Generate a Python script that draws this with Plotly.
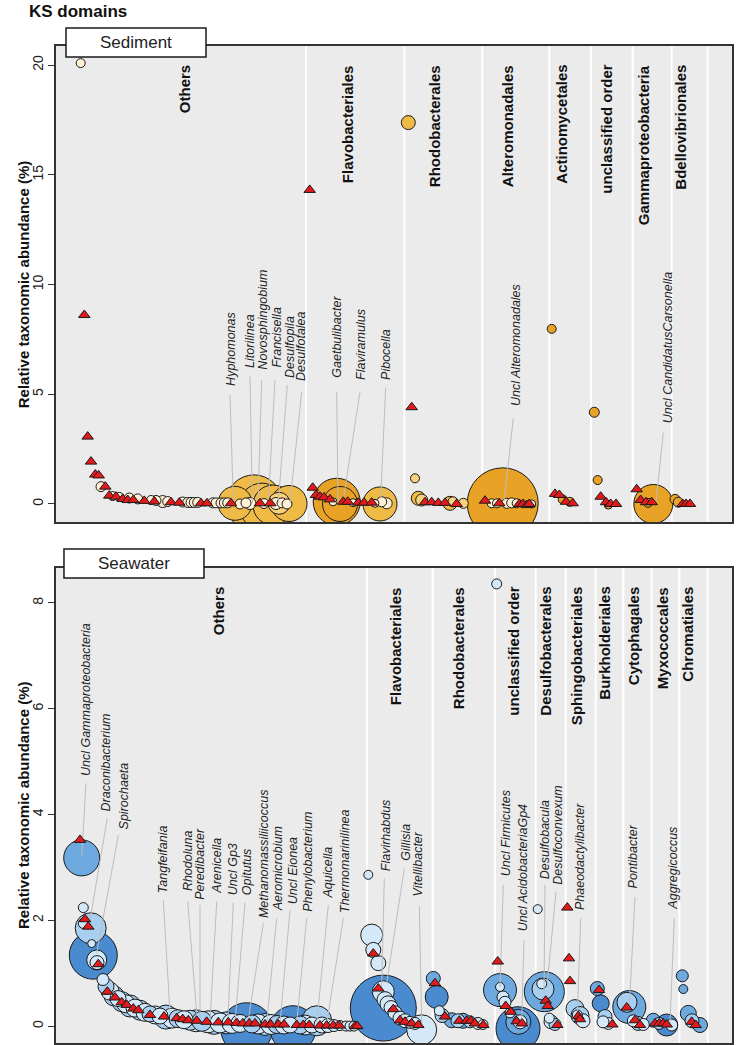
import plotly.graph_objects as go
import numpy as np

# ---------------- Sediment panel data ----------------
SED_GROUPS = ["Others", "Flavobacteriales", "Rhodobacterales", "Alteromonadales",
              "Actinomycetales", "unclassified order", "Gammaproteobacteria", "Bdellovibrionales"]
SED_GROUP_X = [184, 347, 434, 507, 562, 607, 643, 681]
SED_SEPS = [306, 404.3, 482.3, 549.3, 591, 632.7, 671.7, 707.7]

SED_CX = [80.7, 101, 112.7, 119.3, 129.3, 137.7, 151, 156, 162.7, 167.7, 182.7, 187.7, 191, 194.3, 197.7,
          212.7, 216, 221, 224.3, 227.7,
          235, 254, 262, 273, 289, 279, 240, 246, 250, 264, 276, 282, 287,
          336.7, 340, 380, 333, 353, 375, 381.7, 386.7,
          408.3, 415, 418.3, 421.7, 450, 453, 463.3,
          502.7, 491.7, 497, 506.7, 511.7, 516.7, 531.7,
          551.7, 562.7, 570,
          594.3, 597.7, 608.3,
          653.3, 648,
          675, 678.3]
SED_CY = [20.09, 0.79, 0.36, 0.32, 0.27, 0.23, 0.18, 0.16, 0.11, 0.11, 0.09, 0.07, 0.07, 0.07, 0.07,
          0.05, 0.05, 0.05, 0.05, 0.05,
          0.03, 0.05, -0.1, -0.05, 0.02, 0.03, 0.0, 0.05, 0.02, 0.02, 0.02, 0.05, 0.0,
          0.1, 0.0, 0.0, 0.1, 0.06, 0.03, 0.1, 0.03,
          17.38, 1.17, 0.26, 0.18, 0.03, 0.1, 0.03,
          0.03, 0.03, 0.03, 0.03, 0.05, 0.03, 0.0,
          7.98, 0.21, 0.1,
          4.18, 1.09, -0.05,
          0.0, 0.05,
          0.21, 0.08]
SED_CD = [9, 10, 9, 9, 10, 10, 9, 10, 12, 10, 10, 10, 10, 10, 10,
          10, 10, 10, 10, 10,
          34, 56, 46, 40, 36, 22, 10, 10, 12, 10, 12, 10, 10,
          47, 35, 34, 8, 8, 8, 10, 11,
          14, 9, 14, 12, 14, 10, 10,
          71, 9, 9, 10, 10, 9, 8,
          9, 9, 9,
          10, 9, 8,
          39, 9,
          10, 10]
SED_CS = [0, 0, 0, 0, 0, 0, 0, 0, 0, 0, 0, 0, 0, 0, 0,
          0, 0, 0, 0, 0,
          2, 2, 2, 2, 2, 1, 0, 0, 0, 0, 0, 0, 0,
          3, 3, 2, 0, 0, 0, 0, 0,
          2, 1, 2, 1, 2, 1, 1,
          3, 0, 0, 0, 0, 0, 0,
          3, 3, 3,
          3, 3, 3,
          3, 3,
          3, 3]
SED_TX = [84.3, 87.7, 91, 95.3, 98.7, 105.3, 109.3, 116, 122.7, 127.7, 133.3, 144.3, 154.3, 171, 179.3,
          201, 207, 231, 260, 270.3,
          309.7, 312.7, 316, 320, 324, 330, 343.3, 347.7, 358.3, 364, 371.7,
          411.7, 425, 431.7, 438.3, 445, 456.7,
          485, 499.3, 519.3, 523, 526.7, 529.3,
          555, 559.3, 566, 572.7,
          600.7, 606, 610.7, 616,
          636.7, 640.7, 646, 651.7,
          682.7, 686, 690]
SED_TY = [8.61, 3.07, 1.93, 1.34, 1.30, 0.79, 0.38, 0.33, 0.23, 0.18, 0.18, 0.14, 0.11, 0.08, 0.06,
          0.03, 0.03, 0.03, 0.03, 0.03,
          14.31, 0.74, 0.41, 0.33, 0.30, 0.21, 0.10, 0.10, 0.06, 0.06, 0.06,
          4.41, 0.08, 0.08, 0.05, 0.05, 0.0,
          0.15, 0.03, 0.0, 0.0, -0.05, 0.0,
          0.46, 0.41, 0.10, 0.03,
          0.33, 0.08, 0.0, 0.0,
          0.67, 0.18, 0.08, 0.08,
          0.0, 0.0, 0.0]
SED_LABELS = ["Hyphomonas", "Litorilinea", "Novosphingobium", "Francisella", "Desulfopila", "Desulfotalea",
              "Gaetbulibacter", "Flaviramulus", "Pibocella", "Uncl Alteromonadales", "Uncl CandidatusCarsonella"]
SED_LABEL_X = [231, 250, 263, 276.7, 290, 301.7, 336.7, 361.7, 386.7, 516.7, 668.3]
SED_LABEL_Y = [5.29, 6.11, 6.03, 6.11, 5.65, 5.50, 5.65, 5.57, 5.57, 4.36, 3.60]
SED_LEAD_X0 = [230, 250, 261.7, 275, 287.3, 301.7, 336.7, 360, 385.7, 513.3, 663.3]
SED_LEAD_Y0 = [4.97, 5.80, 5.65, 5.65, 5.42, 5.12, 5.10, 5.10, 5.29, 3.91, 3.25]
SED_LEAD_X1 = [233.3, 252.3, 258, 268.3, 278.3, 290, 338, 343.3, 380.7, 504, 656]
SED_LEAD_Y1 = [0.05, 0.05, 0.05, 0.05, 0.05, 0.05, 0.05, 0.2, 0.27, 0.1, 0.1]

# ---------------- Seawater panel data ----------------
SEA_GROUPS = ["Others", "Flavobacteriales", "Rhodobacterales", "unclassified order", "Desulfobacterales",
              "Sphingobacteriales", "Burkholderiales", "Cytophagales", "Myxococcales", "Chromatiales"]
SEA_GROUP_X = [218, 395, 458, 514, 546, 576, 605, 633, 662, 688]
SEA_SEPS = [367, 432.7, 495, 535.7, 565.7, 595.7, 623.3, 651.7, 679.3, 707.7]

SEA_CX = [81.7, 83.3, 90.7, 83.3, 93.3, 91.7, 96.7, 97,
          103, 106, 110, 114, 118, 122, 126, 130, 135, 140, 145, 150, 155, 160, 166, 172, 178, 184, 190,
          196, 202, 208, 214, 220, 226, 232, 246.7, 240, 252, 258, 265, 271, 277, 293, 284, 290, 300,
          305, 316.7, 312, 322, 328, 334, 340, 346, 350, 354,
          368.3, 371.7, 373.3, 378.3, 383.3, 383.3, 385, 388, 391, 395, 400, 405, 410, 415, 421.7,
          433.3, 436.7, 439.3, 442, 451.7, 458, 463, 470, 478, 483,
          496.7, 500, 500, 503, 505, 518, 518.3, 520, 510,
          537.7, 544.3, 543, 541.7, 549.3, 551, 555,
          575, 580, 583, 577.3,
          597.3, 600.7, 605, 608.3, 603,
          629.3, 627, 633.3, 643.3, 638,
          653.3, 666.7, 671.7, 659,
          682.3, 683.3, 688.3, 692, 700]
SEA_CY = [3.18, 2.24, 1.85, 1.94, 1.34, 1.56, 1.25, 1.2,
          0.88, 0.75, 0.66, 0.57, 0.52, 0.46, 0.42, 0.38, 0.34, 0.30, 0.26, 0.23, 0.21, 0.19, 0.17, 0.15,
          0.14, 0.12, 0.11, 0.10, 0.09, 0.08, 0.07, 0.06, 0.06, 0.05, -0.05, 0.05, 0.04, 0.04, 0.03, 0.03,
          0.03, -0.05, 0.02, 0.02, 0.02, 0.02, 0.1, 0.02, 0.02, 0.01, 0.01, 0.01, 0.0, 0.0, 0.0,
          2.86, 1.72, 1.44, 1.19, 0.34, 0.65, 0.5, 0.42, 0.35, 0.25, 0.15, 0.1, 0.07, 0.05, -0.07,
          0.90, 0.55, 0.29, 0.2, 0.11, 0.1, 0.1, 0.08, 0.05, 0.03,
          8.36, 0.68, 0.74, 0.55, 0.45, -0.05, 0.08, 0.08, 0.25,
          2.21, 0.65, 0.7, 0.8, 0.15, 0.08, 0.03,
          0.33, 0.2, 0.1, 0.21,
          0.71, 0.43, 0.18, 0.05, 0.08,
          0.36, 0.45, 0.1, 0.03, 0.05,
          0.11, 0.02, 0.02, 0.05,
          0.95, 0.70, 0.24, 0.1, 0.02]
SEA_CD = [36, 10, 31, 10, 48, 8, 20, 14,
          12, 16, 18, 20, 16, 20, 18, 22, 18, 20, 18, 16, 18, 16, 24, 20, 18, 18, 20,
          22, 20, 22, 24, 20, 22, 20, 52, 18, 18, 20, 22, 20, 18, 46, 18, 16, 18,
          20, 30, 16, 16, 14, 12, 10, 10, 10, 10,
          9, 22, 15, 15, 66, 22, 16, 16, 14, 14, 14, 14, 12, 12, 30,
          14, 23, 10, 14, 15, 14, 15, 12, 12, 10,
          10, 33, 9, 12, 12, 44, 25, 14, 10,
          9, 40, 22, 10, 10, 14, 12,
          18, 18, 14, 10,
          14, 17, 14, 12, 12,
          33, 20, 12, 12, 14,
          14, 22, 12, 12,
          12, 9, 16, 14, 15]
SEA_CS = [2, 0, 1, 0, 3, 0, 0, 0,
          0, 1, 0, 1, 0, 1, 0, 1, 0, 1, 0, 1, 0, 0, 1, 0, 1, 0, 1,
          0, 1, 0, 1, 0, 1, 0, 3, 0, 1, 0, 1, 0, 1, 3, 0, 0, 1,
          0, 1, 0, 0, 0, 0, 0, 0, 0, 0,
          0, 0, 0, 0, 3, 0, 0, 0, 0, 0, 0, 0, 0, 0, 0,
          2, 3, 0, 1, 2, 1, 2, 1, 0, 0,
          0, 2, 0, 0, 0, 3, 2, 0, 0,
          0, 2, 1, 0, 0, 0, 1,
          1, 1, 0, 0,
          2, 3, 1, 0, 0,
          2, 1, 0, 0, 1,
          2, 3, 0, 1,
          2, 2, 2, 1, 2]
SEA_TX = [80, 85, 88.3, 98.3, 107.3, 115, 121.7, 126.7, 133.3, 138.3, 150, 164, 176.7, 182.7, 188.3,
          196.7, 206.7, 218.3, 228.3, 236.7, 242.7, 249.3, 255, 265, 270.7, 278.3, 284, 296.7, 303.3,
          309.3, 320, 326.7, 333.3, 339.3, 355, 357.3,
          373.3, 378.3, 393.3, 400, 405, 411.7, 418.3,
          435, 445, 459.3, 466.7, 471, 475, 483.3,
          497.7, 505.7, 510.7, 516.7, 522,
          545.7, 547.7, 557.3,
          567.3, 569, 570, 578.3, 580,
          599, 612.3,
          626.7, 635, 640,
          655, 659.3, 663.3, 666.7,
          691.7, 695.7]
SEA_TY = [3.52, 2.02, 1.88, 1.17, 0.65, 0.54, 0.45, 0.40, 0.33, 0.30, 0.21, 0.18, 0.15, 0.13, 0.11,
          0.10, 0.08, 0.07, 0.07, 0.06, 0.05, 0.05, 0.05, 0.03, 0.03, 0.03, 0.03, 0.02, 0.02,
          0.02, 0.01, 0.01, 0.01, 0.01, 0.0, 0.0,
          1.37, 0.71, 0.32, 0.11, 0.08, 0.05, 0.02,
          0.81, 0.18, 0.10, 0.10, 0.10, 0.05, 0.02,
          1.22, 0.38, 0.27, 0.09, 0.05,
          0.48, 0.38, 0.02,
          2.24, 1.28, 0.85, 0.19, 0.13,
          0.68, 0.03,
          0.35, 0.11, 0.02,
          0.05, 0.05, 0.05, 0.03,
          0.08, 0.02]
SEA_LABELS = ["Uncl Gammaproteobacteria", "Draconibacterium", "Spirochaeta", "Tangfeifania", "Rhodoluna",
              "Peredibacter", "Arenicella", "Uncl Gp3", "Opitutus", "Methanomassiliicoccus", "Aeromicrobium",
              "Uncl Eionea", "Phenylobacterium", "Aquicella", "Thermomarinilinea", "Flavirhabdus", "Gillisia",
              "Vitellibacter", "Uncl Firmicutes", "Uncl AcidobacteriaGp4", "Desulfobacula", "Desulfoconvexum",
              "Phaeodactylibacter", "Pontibacter", "Aggregicoccus"]
SEA_LABEL_X = [86, 106, 124, 163.3, 188.3, 200, 216.7, 233.3, 246.7, 263.3, 278.3, 293.3, 308.3, 328.3, 345,
               386, 406, 418.3, 505.7, 523.3, 545, 558.3, 580.7, 633.3, 673.3]
SEA_LABEL_Y = [4.68, 4.02, 3.67, 2.48, 2.51, 2.35, 2.46, 2.44, 2.44, 2.00, 2.13, 2.26, 2.13, 2.38, 2.10,
               2.89, 3.08, 2.41, 2.79, 1.75, 2.73, 2.63, 2.16, 2.57, 2.16]
SEA_LEAD_X0 = [86, 107.3, 118.3, 163.3, 187.7, 200, 216.7, 233.3, 245, 263.3, 276.7, 290, 306.7, 328.3, 343.3,
               384.3, 404.3, 419.3, 503.3, 524, 545, 556, 580.7, 635, 674.3]
SEA_LEAD_Y0 = [4.59, 3.93, 3.61, 2.38, 2.35, 2.29, 2.35, 2.33, 2.33, 1.94, 2.04, 2.19, 2.04, 2.29, 2.04,
               2.79, 2.98, 2.27, 2.67, 1.63, 2.67, 2.54, 2.04, 2.44, 2.04]
SEA_LEAD_X1 = [81.7, 90, 96.7, 170, 197.3, 200, 210, 227.7, 235, 248.3, 266.7, 280, 296.7, 316.7, 326.7,
               381.7, 386.7, 421.7, 500, 521.7, 544, 547.3, 577.3, 629.3, 670]
SEA_LEAD_Y1 = [3.20, 2.00, 1.37, 0.24, 0.11, 0.11, 0.08, 0.05, 0.06, 0.11, 0.05, 0.05, 0.05, 0.05, 0.05,
               0.74, 0.81, 0.05, 0.74, 0.11, 0.62, 0.81, 0.21, 0.36, 0.05]

SED_SHADES = ["#FFF1D6", "#F7D27A", "#EFBA45", "#E8A326"]
SEA_SHADES = ["#D3E8F8", "#A8CFF0", "#6DA9DF", "#4A8BD0"]

FONT = "Liberation Sans, Arial, sans-serif"

fig = go.Figure()
annotations = []
shapes = []


def add_panel(xa, ya, cx, cy, cd, cs, shades, tx, ty, labels, lx, ly, lx0, ly0, lx1, ly1,
              groups, gx, seps):
    order = np.argsort(-np.array(cd), kind="stable")
    fig.add_trace(go.Scatter(
        x=[cx[i] for i in order], y=[cy[i] for i in order], mode="markers",
        marker=dict(size=[cd[i] for i in order], color=[shades[cs[i]] for i in order],
                    line=dict(color="#1a1a1a", width=1), opacity=1),
        xaxis=xa, yaxis=ya, hoverinfo="skip", showlegend=False))
    sx, sy = [], []
    for a, b, c, d in zip(lx0, ly0, lx1, ly1):
        sx += [a, c, None]
        sy += [b, d, None]
    fig.add_trace(go.Scatter(x=sx, y=sy, mode="lines", line=dict(color="#BDBDBD", width=1),
                             xaxis=xa, yaxis=ya, hoverinfo="skip", showlegend=False))
    fig.add_trace(go.Scatter(
        x=tx, y=ty, mode="markers",
        marker=dict(symbol="triangle-up", size=10, color="#E3191C", line=dict(color="#1a1a1a", width=1)),
        xaxis=xa, yaxis=ya, hoverinfo="skip", showlegend=False))
    xref = "x" if xa == "x" else "x2"
    yref = "y" if ya == "y" else "y2"
    for name, x, y in zip(labels, lx, ly):
        annotations.append(dict(text="<i>" + name + "</i>", x=x, y=y, xref=xref, yref=yref,
                                textangle=-90, xanchor="center", yanchor="bottom", showarrow=False,
                                font=dict(family=FONT, size=12.5, color="#222222")))
    for name, x in zip(groups, gx):
        annotations.append(dict(text="<b>" + name + "</b>", x=x, y=0.964, xref=xref, yref=yref + " domain",
                                textangle=-90, xanchor="center", yanchor="top", showarrow=False,
                                font=dict(family=FONT, size=15, color="#111111")))
    for s in seps:
        shapes.append(dict(type="line", xref=xref, yref=yref + " domain", x0=s, x1=s, y0=0, y1=1,
                           line=dict(color="white", width=2), layer="below"))


add_panel("x", "y", SED_CX, SED_CY, SED_CD, SED_CS, SED_SHADES, SED_TX, SED_TY,
          SED_LABELS, SED_LABEL_X, SED_LABEL_Y, SED_LEAD_X0, SED_LEAD_Y0, SED_LEAD_X1, SED_LEAD_Y1,
          SED_GROUPS, SED_GROUP_X, SED_SEPS)
add_panel("x2", "y2", SEA_CX, SEA_CY, SEA_CD, SEA_CS, SEA_SHADES, SEA_TX, SEA_TY,
          SEA_LABELS, SEA_LABEL_X, SEA_LABEL_Y, SEA_LEAD_X0, SEA_LEAD_Y0, SEA_LEAD_X1, SEA_LEAD_Y1,
          SEA_GROUPS, SEA_GROUP_X, SEA_SEPS)

# strip boxes
for (x0, x1, y0, y1, txt) in [(0.0148, 0.2219, 0.989, 1.018, "Sediment"),
                              (0.0118, 0.2189, 0.4664, 0.4955, "Seawater")]:
    shapes.append(dict(type="rect", xref="paper", yref="paper", x0=x0, x1=x1, y0=y0, y1=y1,
                       fillcolor="white", line=dict(color="#1a1a1a", width=1.5), layer="above"))
    annotations.append(dict(text=txt, x=(x0 + x1) / 2, y=(y0 + y1) / 2, xref="paper", yref="paper",
                            xanchor="center", yanchor="middle", showarrow=False,
                            font=dict(family=FONT, size=17, color="#222222")))

# axis titles
for yc in [0.761, 0.2387]:
    annotations.append(dict(text="<b>Relative taxonomic abundance (%)</b>", x=-0.0488, y=yc,
                            xref="paper", yref="paper", textangle=-90, xanchor="center", yanchor="middle",
                            showarrow=False, font=dict(family=FONT, size=15, color="#111111")))

annotations.append(dict(text="<b>KS domains</b>", x=-0.0429, y=1.035, xref="paper", yref="paper",
                        xanchor="left", yanchor="middle", showarrow=False,
                        font=dict(family=FONT, size=17, color="#111111")))

xcommon = dict(showticklabels=False, ticks="", showgrid=False, zeroline=False, showline=True,
               mirror=True, linecolor="#333333", linewidth=1.5, range=[56, 732], automargin=False)
ycommon = dict(showgrid=False, zeroline=False, showline=True, mirror=True, linecolor="#333333",
               linewidth=1.5, ticks="outside", ticklen=6, tickcolor="#333333", tickangle=-90,
               tickfont=dict(family=FONT, size=14, color="#222222"), automargin=False)

fig.update_layout(
    width=743, height=1045,
    margin=dict(l=56, r=11, t=46, b=2, autoexpand=False),
    paper_bgcolor="white", plot_bgcolor="#EBEBEB",
    xaxis=dict(domain=[0, 1], anchor="y", **xcommon),
    yaxis=dict(domain=[0.5226, 1], anchor="x", range=[-0.82, 20.87], tickvals=[0, 5, 10, 15, 20], **ycommon),
    xaxis2=dict(domain=[0, 1], anchor="y2", **xcommon),
    yaxis2=dict(domain=[0, 0.4764], anchor="x2", range=[-0.32, 8.66], tickvals=[0, 2, 4, 6, 8], **ycommon),
    annotations=annotations, shapes=shapes,
)

fig.write_html("out.html", config={"displayModeBar": False},
               post_script="document.body.style.margin='0';document.documentElement.style.overflow='hidden';")
